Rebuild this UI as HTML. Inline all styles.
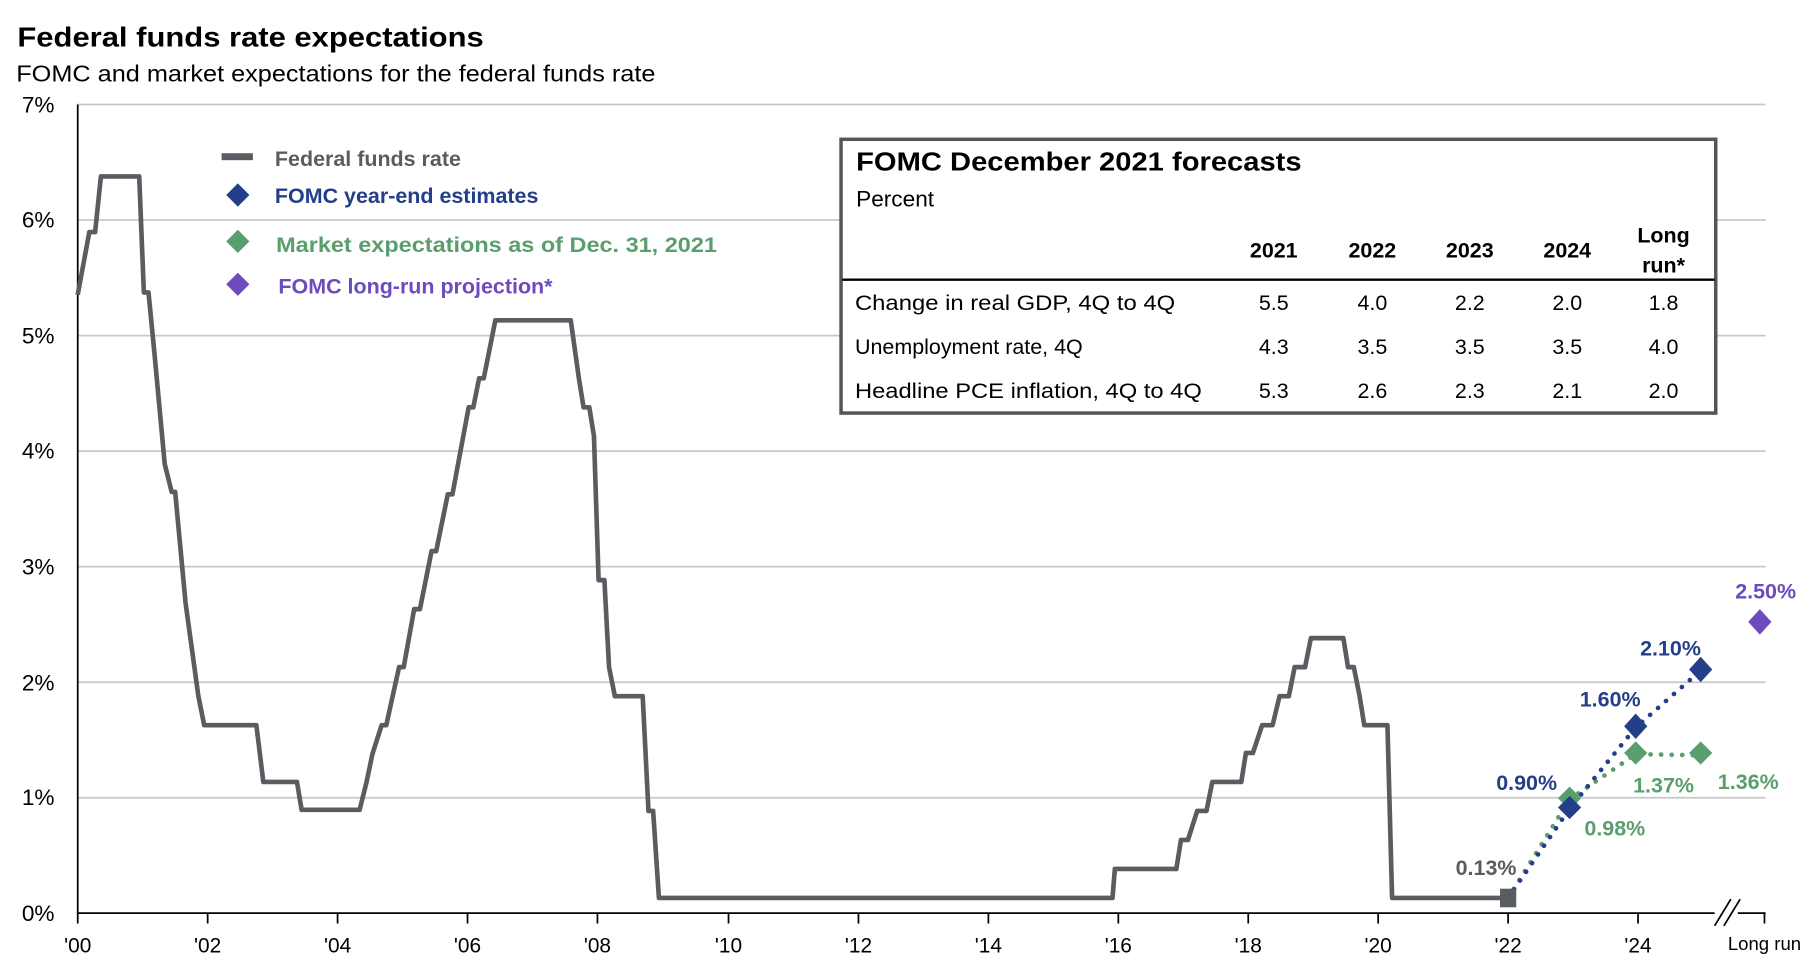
<!DOCTYPE html>
<html><head><meta charset="utf-8"><style>
html,body{margin:0;padding:0;background:#fff;}
svg{display:block;font-family:"Liberation Sans",Arial,sans-serif;}
</style></head><body>
<svg width="1819" height="970" viewBox="0 0 1568 836" xmlns="http://www.w3.org/2000/svg">
<text x="15" y="40" font-size="24" font-weight="bold" fill="#000" textLength="402" lengthAdjust="spacingAndGlyphs">Federal funds rate expectations</text>
<text x="14" y="70" font-size="20" fill="#000" textLength="551" lengthAdjust="spacingAndGlyphs">FOMC and market expectations for the federal funds rate</text>
<g stroke="#c8c8c8" stroke-width="1.5">
<line x1="67" y1="90" x2="1522" y2="90"/><line x1="67" y1="189.6" x2="1522" y2="189.6"/>
<line x1="67" y1="289.2" x2="1522" y2="289.2"/><line x1="67" y1="388.8" x2="1522" y2="388.8"/>
<line x1="67" y1="488.4" x2="1522" y2="488.4"/><line x1="67" y1="588" x2="1522" y2="588"/>
<line x1="67" y1="687.6" x2="1522" y2="687.6"/>
</g>
<g font-size="19.5" fill="#000" text-anchor="end">
<text x="47" y="97">7%</text><text x="47" y="196">6%</text><text x="47" y="296">5%</text>
<text x="47" y="395">4%</text><text x="47" y="495">3%</text><text x="47" y="595">2%</text>
<text x="47" y="694">1%</text><text x="47" y="794">0%</text>
</g>
<line x1="67" y1="90" x2="67" y2="787" stroke="#000" stroke-width="1.5"/>
<line x1="67" y1="787" x2="1522" y2="787" stroke="#000" stroke-width="1.5"/>
<g stroke="#000" stroke-width="1.5">
<line x1="67" y1="787" x2="67" y2="796"/><line x1="179" y1="787" x2="179" y2="796"/><line x1="291" y1="787" x2="291" y2="796"/>
<line x1="403" y1="787" x2="403" y2="796"/><line x1="515" y1="787" x2="515" y2="796"/><line x1="628" y1="787" x2="628" y2="796"/>
<line x1="740" y1="787" x2="740" y2="796"/><line x1="852" y1="787" x2="852" y2="796"/><line x1="964" y1="787" x2="964" y2="796"/>
<line x1="1076" y1="787" x2="1076" y2="796"/><line x1="1188" y1="787" x2="1188" y2="796"/><line x1="1300" y1="787" x2="1300" y2="796"/>
<line x1="1412" y1="787" x2="1412" y2="796"/><line x1="1521" y1="787" x2="1521" y2="796"/>
</g>
<rect x="1478" y="775" width="20" height="24" fill="#fff"/>
<g stroke="#000" stroke-width="1.5"><line x1="1478" y1="798" x2="1492" y2="775"/><line x1="1486" y1="798" x2="1500" y2="775"/></g>
<g font-size="18" fill="#000" text-anchor="middle">
<text x="67" y="821">'00</text><text x="179" y="821">'02</text><text x="291" y="821">'04</text><text x="403" y="821">'06</text>
<text x="515" y="821">'08</text><text x="628" y="821">'10</text><text x="740" y="821">'12</text><text x="852" y="821">'14</text>
<text x="964" y="821">'16</text><text x="1076" y="821">'18</text><text x="1188" y="821">'20</text><text x="1300" y="821">'22</text>
<text x="1412" y="821">'24</text><text x="1521" y="819" font-size="16">Long run</text>
</g>
<polyline fill="none" stroke="#595c60" stroke-width="4" stroke-linejoin="round" points="
67,254 77,200 82,200 87,152 120,152 124,252 128,252 133,303 142,400 148,424 151,424 160,520 171,600 176,625 221,625 227,674 256,674 260,698 310,698 316,674 321,650 329,625 333,625 344,575 348,575 357,525 362,525 372,475 376,475 386,426 390,426 404,351 408,351 413,326 417,326 427,276 492,276 499,326 503,351 508,351 512,376 516,500 521,500 525,575 530,600 554,600 559,699 563,699 568,774 959,774 961,749 1014,749 1018,724 1024,724 1032,699 1040,699 1045,674 1070,674 1074,649 1080,649 1088,625 1097,625 1103,600 1111,600 1116,575 1125,575 1130,550 1158,550 1162,575 1167,575 1172,600 1176,625 1196,625 1200,774 1300,774"/>
<g fill="none" stroke-width="4" stroke-linecap="round" stroke-dasharray="0.1 9">
<polyline stroke="#5b9e6e" points="1300,774 1353,689 1410,650 1466,651"/>
<polyline stroke="#243f8a" points="1300,774 1353,697 1410,627 1466,578"/>
</g>
<rect x="1293" y="766" width="14" height="16" fill="#595c60"/>
<g>
<path d="M1353,678 l10,10 -10,10 -10,-10z" fill="#5b9e6e"/>
<path d="M1353,686 l10,10 -10,10 -10,-10z" fill="#243f8a"/>
<path d="M1410,615 l10,11 -10,11 -10,-11z" fill="#243f8a"/>
<path d="M1410,639 l10,10 -10,10 -10,-10z" fill="#5b9e6e"/>
<path d="M1466,566 l10,11 -10,11 -10,-11z" fill="#243f8a"/>
<path d="M1466,639 l10,10 -10,10 -10,-10z" fill="#5b9e6e"/>
<path d="M1517,525 l10,11 -10,11 -10,-11z" fill="#6b4bbd"/>
</g>
<g font-size="18.5" font-weight="bold">
<text x="1281" y="754" text-anchor="middle" fill="#595c60">0.13%</text>
<text x="1316" y="681" text-anchor="middle" fill="#243f8a">0.90%</text>
<text x="1388" y="609" text-anchor="middle" fill="#243f8a">1.60%</text>
<text x="1440" y="565" text-anchor="middle" fill="#243f8a">2.10%</text>
<text x="1392" y="720" text-anchor="middle" fill="#5b9e6e">0.98%</text>
<text x="1434" y="683" text-anchor="middle" fill="#5b9e6e">1.37%</text>
<text x="1507" y="680" text-anchor="middle" fill="#5b9e6e">1.36%</text>
<text x="1522" y="516" text-anchor="middle" fill="#6b4bbd">2.50%</text>
</g>
<rect x="191" y="132" width="27" height="6" fill="#595c60"/>
<path d="M205,158 l10,10 -10,10 -10,-10z" fill="#243f8a"/>
<path d="M205,198 l10,10 -10,10 -10,-10z" fill="#5b9e6e"/>
<path d="M205,235 l10,10 -10,10 -10,-10z" fill="#6b4bbd"/>
<g font-size="18.5" font-weight="bold">
<text x="237" y="143" fill="#595c60">Federal funds rate</text>
<text x="237" y="175" fill="#243f8a">FOMC  year-end estimates</text>
<text x="238" y="217" fill="#5b9e6e" textLength="380" lengthAdjust="spacingAndGlyphs">Market expectations as of Dec. 31, 2021</text>
<text x="240" y="253" fill="#6b4bbd">FOMC  long-run  projection*</text>
</g>
<rect x="725" y="120" width="754" height="236" fill="#fff" stroke="#555" stroke-width="3"/>
<text x="738" y="147" font-size="22" font-weight="bold" fill="#000" textLength="384" lengthAdjust="spacingAndGlyphs">FOMC December 2021 forecasts</text>
<text x="738" y="178" font-size="19.5" fill="#000">Percent</text>
<g font-size="18.5" font-weight="bold" text-anchor="middle" fill="#000">
<text x="1098" y="222">2021</text><text x="1183" y="222">2022</text><text x="1267" y="222">2023</text>
<text x="1351" y="222">2024</text><text x="1434" y="209">Long</text><text x="1434" y="235">run*</text>
</g>
<line x1="726" y1="241" x2="1478" y2="241" stroke="#000" stroke-width="2"/>
<g font-size="18.5" fill="#000">
<text x="737" y="267" textLength="276" lengthAdjust="spacingAndGlyphs">Change in real GDP, 4Q to 4Q</text>
<text x="737" y="305">Unemployment rate, 4Q</text>
<text x="737" y="343" textLength="299" lengthAdjust="spacingAndGlyphs">Headline PCE inflation, 4Q to 4Q</text>
</g>
<g font-size="18.5" fill="#000" text-anchor="middle">
<text x="1098" y="267">5.5</text><text x="1183" y="267">4.0</text><text x="1267" y="267">2.2</text><text x="1351" y="267">2.0</text><text x="1434" y="267">1.8</text>
<text x="1098" y="305">4.3</text><text x="1183" y="305">3.5</text><text x="1267" y="305">3.5</text><text x="1351" y="305">3.5</text><text x="1434" y="305">4.0</text>
<text x="1098" y="343">5.3</text><text x="1183" y="343">2.6</text><text x="1267" y="343">2.3</text><text x="1351" y="343">2.1</text><text x="1434" y="343">2.0</text>
</g>
</svg>
</body></html>
